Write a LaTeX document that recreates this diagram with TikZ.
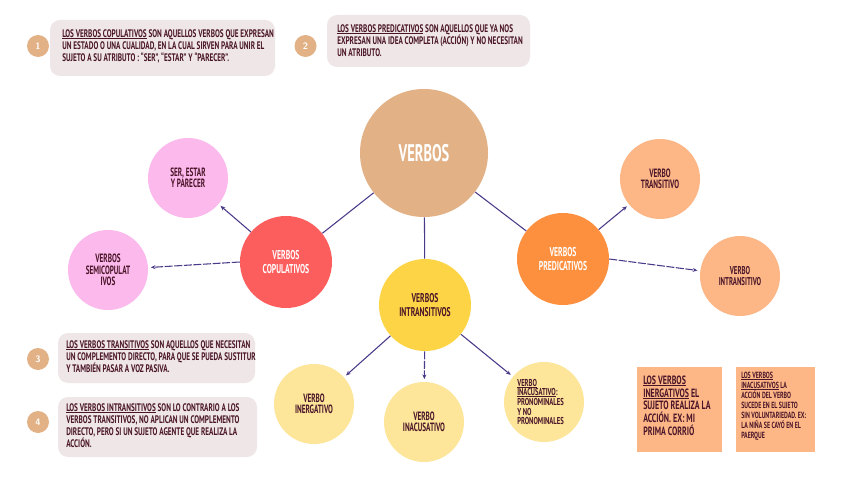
\documentclass[tikz,border=0pt]{standalone}
\usepackage{fontspec}
\newfontfamily\hand{PT Sans}[FakeStretch=0.6]
\newfontfamily\handw{PT Sans}[FakeStretch=0.66]
\usetikzlibrary{arrows.meta}
\newcommand\ulx[1]{\setbox0\hbox{#1}\rlap{\rule[-0.9pt]{\wd0}{0.45pt}}\box0\relax}
\definecolor{ink}{HTML}{4A1528}
\definecolor{link}{HTML}{4B3A8A}
\definecolor{cTan}{HTML}{E2B185}
\definecolor{cRed}{HTML}{FC5D5D}
\definecolor{cPink}{HTML}{FBB9EC}
\definecolor{cOrange}{HTML}{FD903E}
\definecolor{cPeach}{HTML}{FDB787}
\definecolor{cYellow}{HTML}{FDD446}
\definecolor{cPale}{HTML}{FDE59A}
\definecolor{cGrey}{HTML}{EFE7E7}
\tikzset{
  bubble/.style={circle, inner sep=0pt, align=center, text=ink, font=\hand\bfseries\fontsize{9}{8.5}\selectfont},
  bigb/.style={bubble, minimum size=69pt, text=white, font=\hand\bfseries\fontsize{9.6}{10.3}\selectfont},
  smallb/.style={bubble, minimum size=60pt},
  infobox/.style={fill=cGrey, rounded corners=7.5pt, inner sep=0pt},
  notebox/.style={fill=cPeach, inner sep=0pt, minimum size=63.75pt},
  boxtext/.style={anchor=west, align=left, inner sep=0pt, text=ink, font=\handw\bfseries\fontsize{8.2}{9}\selectfont},
  numdot/.style={circle, fill=cTan, minimum size=16.5pt, inner sep=0pt, text=white, font=\sffamily\bfseries\fontsize{7}{8}\selectfont},
  link/.style={draw=link, line width=0.8pt},
  arr/.style={link, -{Stealth[length=3.5pt,width=3pt]}, shorten >=2pt},
  darr/.style={arr, dash pattern=on 6pt off 1.2pt},
}
\begin{document}
\begin{tikzpicture}[x=0.75pt,y=-0.75pt]
\useasboundingbox (0,0) rectangle (848,477);
\fill[white] (0,0) rectangle (848,477);

% info boxes
\node[infobox, minimum width=168.75pt, minimum height=42pt] (b1) at (162.5,48) {};
\node[boxtext] (t1) at (62,46) {\ulx{LOS VERBOS COPULATIVOS} SON AQUELLOS VERBOS QUE EXPRESAN\\UN ESTADO O UNA CUALIDAD, EN LA CUAL SIRVEN PARA UNIR EL\\SUJETO A SU ATRIBUTO : “SER”, “ESTAR” Y “PARECER”.};
\node[numdot] (n1) at (38,46) {1};

\node[infobox, minimum width=152.25pt, minimum height=39pt] (b2) at (428.5,41) {};
\node[boxtext] (t2) at (337,41) {\ulx{LOS VERBOS PREDICATIVOS} SON AQUELLOS QUE YA NOS\\EXPRESAN UNA IDEA COMPLETA (ACCIÓN) Y NO NECESITAN\\UN ATRIBUTO.};
\node[numdot] (n2) at (305.5,46) {2};

\node[infobox, minimum width=147.75pt, minimum height=37.5pt] (b3) at (156.5,358) {};
\node[boxtext] (t3) at (66,357) {\ulx{LOS VERBOS TRANSITIVOS} SON AQUELLOS QUE NECESITAN\\UN COMPLEMENTO DIRECTO, PARA QUE SE PUEDA SUSTITUR\\Y TAMBIÉN PASAR A VOZ PASIVA.};
\node[numdot] (n3) at (38,359) {3};

\node[infobox, minimum width=149.25pt, minimum height=45pt] (b4) at (157.5,427) {};
\node[boxtext] (t4) at (66,426) {\ulx{LOS VERBOS INTRANSITIVOS} SON LO CONTRARIO A LOS\\VERBOS TRANSITIVOS, NO APLICAN UN COMPLEMENTO\\DIRECTO, PERO SI UN SUJETO AGENTE QUE REALIZA LA\\ACCIÓN.};
\node[numdot] (n4) at (38,422) {4};

% note boxes
\node[notebox] (o1) at (679.5,409.5) {};
\node[boxtext, font=\handw\bfseries\fontsize{9}{9.5}\selectfont] (ot1) at (643,405.5) {\ulx{LOS VERBOS}\\\ulx{INERGATIVOS} EL\\SUJETO REALIZA LA\\ACCIÓN. EX: MI\\PRIMA CORRIÓ};
\node[notebox, minimum size=59.25pt, minimum height=63.75pt] (o2) at (775.5,409.5) {};
\node[boxtext, font=\handw\bfseries\fontsize{6.7}{7.5}\selectfont] (ot2) at (741,406.5) {\ulx{LOS VERBOS}\\\ulx{INACUSATIVOS} LA\\ACCIÓN DEL VERBO\\SUCEDE EN EL SUJETO\\SIN VOLUNTARIEDAD. EX:\\LA NIÑA SE CAYÓ EN EL\\PAERQUE};

% bubbles
\node[bubble, fill=cTan, minimum size=96pt, text=white, font=\hand\bfseries\fontsize{18}{18}\selectfont] (verbos) at (424,153) {VERBOS};
\node[bigb, fill=cRed] (cop) at (286,262) {VERBOS\\COPULATIVOS};
\node[bigb, fill=cOrange] (pred) at (563,259) {VERBOS\\PREDICATIVOS};
\node[bigb, fill=cYellow, text=ink, font=\hand\bfseries\fontsize{9.5}{10}\selectfont] (intr) at (425,305) {VERBOS\\INTRANSITIVOS};
\node[smallb, fill=cPink] (ser) at (188,178) {SER, ESTAR\\Y PARECER};
\node[smallb, fill=cPink] (semi) at (108,270) {VERBOS\\SEMICOPULAT\\IVOS};
\node[smallb, fill=cPeach] (trans) at (660,179) {VERBO\\TRANSITIVO};
\node[smallb, fill=cPeach, font=\hand\bfseries\fontsize{8.5}{8.5}\selectfont] (intrans) at (740,276) {VERBO\\INTRANSITIVO};
\node[smallb, fill=cPale] (inerg) at (314,404) {VERBO\\INERGATIVO};
\node[smallb, fill=cPale] (inac) at (424,422) {VERBO\\INACUSATIVO};
\node[smallb, fill=cPale] (pron) at (544,402) {};
\node[boxtext, font=\handw\bfseries\fontsize{7.5}{7.3}\selectfont] (pront) at (517,402) {\ulx{VERBO}\\\ulx{INACUSATIVO}:\\PRONOMINALES\\Y NO\\PRONOMINALES};

% connectors
\draw[link] (verbos) -- (cop);
\draw[link] (verbos) -- (intr);
\draw[link] (verbos) -- (pred);
\draw[arr] (cop) -- (ser);
\draw[darr] (cop.west) -- (semi);
\draw[arr] (pred) -- (trans);
\draw[darr] (pred.east) -- (intrans);
\draw[arr] (intr) -- (inerg);
\draw[darr] (intr) -- (inac);
\draw[arr] (intr) -- (pron);
\end{tikzpicture}
\end{document}
